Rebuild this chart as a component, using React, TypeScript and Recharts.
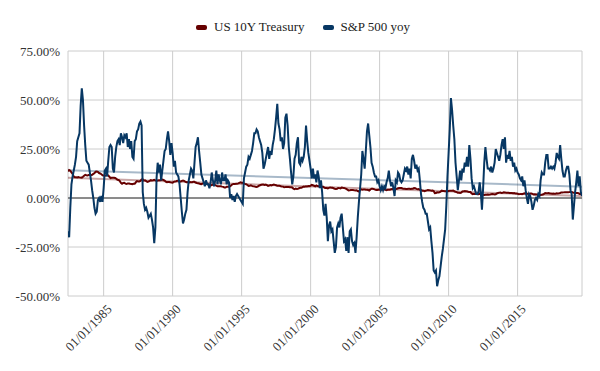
import { LineChart, Line, XAxis, YAxis, CartesianGrid, ReferenceLine } from 'recharts';

// monthly, month-end observations from May 1982 to Aug 2019
const startYear = 1982;
const startMonth = 5;

// S&P 500 year-over-year change, %
const sp500Yoy = [
    -17, -20, -5, 7, 11, 14, 17, 21, // 1982 (May-Dec)
    29, 31, 33, 47, 56, 50, 37, 27, 19, 18, 17, 13, // 1983
    9, 4, 0, -5, -8, -7, -1, 0, -2, 1, -2, 5, // 1984
    14, 15, 11, 19, 26, 27, 26, 15, 13, 21, 26, 29, // 1985
    30, 27, 33, 31, 28, 32, 31, 33, 26, 30, 25, 29, // 1986
    21, 20, 29, 30, 34, 35, 38, 39, 37, 3, -3, -6, // 1987
    -5, -7, -10, -9, -8, -11, -15, -23, -15, 10, 18, 13, // 1988
    17, 9, 14, 19, 24, 25, 30, 34, 29, 22, 28, 23, // 1989
    16, 19, 13, 12, 11, 7, 0, -7, -13, -11, -8, -6, // 1990
    3, 9, 12, 15, 14, 10, 18, 26, 28, 31, 24, 18, // 1991
    12, 10, 8, 6, 9, 7, 7, 5, 8, 13, 9, 6, // 1992
    9, 14, 7, 12, 9, 7, 13, 9, 9, 12, 7, 9, // 1993
    8, 0, 2, -1, 1, -2, 1, 2, 1, 0, -1, -2, // 1994
    -3, 10, 13, 16, 17, 21, 20, 22, 24, 28, 33, 33, // 1995
    35, 34, 31, 29, 27, 23, 15, 17, 20, 23, 26, 20, // 1996
    24, 22, 27, 30, 35, 41, 48, 38, 35, 29, 31, 25, // 1997
    28, 41, 43, 37, 26, 20, 13, 7, 11, 20, 22, 28, // 1998
    31, 18, 17, 21, 19, 21, 26, 37, 29, 23, 19, 15, // 1999
    10, 15, 10, 12, 8, 14, 11, 5, 9, 3, -6, -9, // 2000
    -3, -10, -22, -14, -12, -17, -16, -22, -28, -25, -15, -13, // 2001
    -15, -10, -8, -15, -22, -21, -27, -20, -28, -17, -16, -22, // 2002
    -24, -23, -28, -20, -10, -2, 5, 12, 24, 20, 15, 24, // 2003
    34, 38, 32, 26, 18, 16, 13, 11, 11, 8, 9, 6, // 2004
    4, 6, 4, 6, 5, 8, 10, 14, 9, 6, 8, 5, // 2005
    1, 9, 8, 13, 12, 9, 8, 9, 12, 15, 14, 16, // 2006
    12, 15, 10, 20, 22, 19, 15, 17, 14, 15, 9, 2, // 2007
    -2, -5, -6, -8, -8, -12, -16, -15, -22, -28, -37, -38, // 2008
    -37, -45, -42, -40, -35, -30, -26, -21, -16, -4, 11, 23, // 2009
    35, 51, 45, 37, 30, 18, 11, 4, 9, 14, 9, 15, // 2010
    13, 18, 16, 21, 16, 27, 20, 10, 5, 6, 4, 2, // 2011
    2, 3, 8, 3, -6, 5, 18, 26, 20, 15, 15, 14, // 2012
    16, 13, 15, 18, 25, 23, 21, 19, 22, 27, 30, 25, // 2013
    31, 18, 22, 20, 24, 19, 21, 16, 18, 14, 15, 13, // 2014
    12, 10, 9, 11, 6, 9, 4, 0, -3, 2, 1, -2, // 2015
    -6, -4, -1, 0, -1, 2, 1, 9, 13, 12, 12, 18, // 2016
    22, 22, 15, 15, 16, 15, 16, 15, 18, 23, 21, 20, // 2017
    27, 20, 14, 11, 11, 14, 16, 16, 12, 4, 2, -11, // 2018
    -4, 3, 8, 14, 6, 11, 3, 1, // 2019 (Jan-Aug)
];

// US 10Y Treasury yield, %
const us10yTreasury = [
    13.62, 14.3, 13.95, 13.06, 12.34, 10.91, 10.55, 10.54,
    10.46, 10.72, 10.51, 10.4, 10.38, 10.85, 11.38, 11.85, 11.65, 11.54, 11.69, 11.83,
    11.67, 11.84, 12.32, 12.63, 13.41, 13.56, 13.36, 12.72, 12.52, 12.16, 11.57, 11.5,
    11.38, 11.51, 11.86, 11.43, 10.85, 10.16, 10.31, 10.33, 10.37, 10.24, 9.78, 9.26,
    9.19, 8.7, 7.78, 7.3, 7.71, 7.8, 7.3, 7.17, 7.45, 7.43, 7.25, 7.11,
    7.08, 7.25, 7.25, 8.02, 8.61, 8.4, 8.45, 8.76, 9.42, 9.52, 8.86, 8.99,
    8.67, 8.21, 8.37, 8.72, 9.09, 8.92, 9.06, 9.26, 8.98, 8.8, 8.96, 9.11,
    9.09, 9.17, 9.36, 9.18, 8.86, 8.28, 8.02, 8.11, 8.19, 8.01, 7.87, 7.84,
    8.21, 8.47, 8.59, 8.79, 8.76, 8.48, 8.47, 8.75, 8.89, 8.72, 8.39, 8.08,
    8.09, 7.85, 8.11, 8.04, 8.07, 8.28, 8.27, 7.9, 7.65, 7.53, 7.42, 7.09,
    7.03, 7.34, 7.54, 7.48, 7.39, 7.26, 6.84, 6.59, 6.42, 6.59, 6.87, 6.77,
    6.6, 6.26, 5.98, 5.97, 6.04, 5.96, 5.81, 5.68, 5.36, 5.33, 5.72, 5.77,
    5.75, 5.97, 6.48, 6.97, 7.18, 7.1, 7.3, 7.24, 7.46, 7.74, 7.96, 7.81,
    7.78, 7.47, 7.2, 7.06, 6.63, 6.17, 6.28, 6.49, 6.2, 6.04, 5.93, 5.71,
    5.65, 5.81, 6.27, 6.51, 6.74, 6.91, 6.87, 6.64, 6.83, 6.53, 6.2, 6.3,
    6.58, 6.42, 6.69, 6.89, 6.71, 6.49, 6.22, 6.3, 6.21, 6.03, 5.88, 5.81,
    5.54, 5.57, 5.65, 5.64, 5.65, 5.5, 5.46, 5.34, 4.81, 4.53, 4.83, 4.65,
    4.72, 5.0, 5.23, 5.18, 5.54, 5.9, 5.79, 5.94, 5.92, 6.11, 6.03, 6.28,
    6.66, 6.52, 6.26, 5.99, 6.44, 6.1, 6.05, 5.83, 5.8, 5.74, 5.72, 5.24,
    5.16, 5.1, 4.89, 5.14, 5.39, 5.28, 5.24, 4.97, 4.73, 4.57, 4.65, 5.09,
    5.04, 4.91, 5.28, 5.21, 5.16, 4.93, 4.65, 4.26, 3.87, 3.94, 4.05, 4.03,
    4.05, 3.9, 3.81, 3.96, 3.57, 3.33, 3.98, 4.45, 4.27, 4.29, 4.3, 4.27,
    4.15, 4.08, 3.83, 4.35, 4.72, 4.73, 4.5, 4.28, 4.13, 4.1, 4.19, 4.23,
    4.22, 4.17, 4.5, 4.34, 4.14, 4.0, 4.18, 4.26, 4.2, 4.46, 4.54, 4.47,
    4.42, 4.57, 4.72, 4.99, 5.11, 5.11, 5.09, 4.88, 4.72, 4.73, 4.6, 4.56,
    4.76, 4.72, 4.56, 4.69, 4.75, 5.1, 5.0, 4.67, 4.52, 4.53, 4.15, 4.1,
    3.74, 3.74, 3.51, 3.68, 3.88, 4.1, 4.01, 3.89, 3.69, 3.81, 3.53, 2.42,
    2.52, 2.87, 2.82, 2.93, 3.29, 3.72, 3.56, 3.59, 3.4, 3.39, 3.4, 3.59,
    3.73, 3.69, 3.73, 3.85, 3.42, 3.2, 3.01, 2.7, 2.65, 2.54, 2.76, 3.29,
    3.39, 3.58, 3.41, 3.46, 3.17, 3.0, 3.0, 2.3, 1.98, 2.15, 2.01, 1.98,
    1.97, 1.97, 2.17, 2.05, 1.8, 1.62, 1.53, 1.68, 1.72, 1.75, 1.65, 1.72,
    1.91, 1.98, 1.96, 1.76, 1.93, 2.3, 2.58, 2.74, 2.81, 2.62, 2.72, 2.9,
    2.86, 2.71, 2.72, 2.71, 2.56, 2.6, 2.54, 2.42, 2.53, 2.3, 2.33, 2.21,
    1.88, 1.98, 2.04, 1.94, 2.2, 2.36, 2.32, 2.17, 2.17, 2.07, 2.26, 2.24,
    2.09, 1.78, 1.89, 1.81, 1.81, 1.64, 1.5, 1.56, 1.63, 1.76, 2.14, 2.49,
    2.43, 2.42, 2.48, 2.3, 2.3, 2.19, 2.32, 2.21, 2.2, 2.36, 2.35, 2.4,
    2.58, 2.86, 2.84, 2.87, 2.98, 2.91, 2.89, 2.89, 3.0, 3.15, 3.12, 2.83,
    2.71, 2.68, 2.57, 2.53, 2.4, 2.07, 2.06, 1.63,
];

// trendline values at the first and last observation, read off the chart
const spTrendEnds = [14.2, 5.8];
const ustTrendEnds = [10.3, 1.0];

const yearTicks = [1985, 1990, 1995, 2000, 2005, 2010, 2015];
const pctTicks = [-50, -25, 0, 25, 50, 75];

const RED = '#660000';
const BLUE = '#073763';
const FONT = '"Liberation Serif", "Times New Roman", serif';

const rows = sp500Yoy.map((v, i) => ({
    t: startYear + (startMonth + i) / 12,
    sp: v,
    ust: us10yTreasury[i],
}));

const tFirst = rows[0].t;
const tLast = rows[rows.length - 1].t;
const spTrend = [{ t: tFirst, v: spTrendEnds[0] }, { t: tLast, v: spTrendEnds[1] }];
const ustTrend = [{ t: tFirst, v: ustTrendEnds[0] }, { t: tLast, v: ustTrendEnds[1] }];

function DateTick({ x, y, payload }: any) {
    const px = x + 9;
    const py = y + 6;
    return (
        <text
            x={px}
            y={py}
            transform={`rotate(-45, ${px}, ${py})`}
            textAnchor="end"
            fontSize={13}
            style={{ fontFamily: FONT }}
            fill="#333"
        >
            {`01/01/${payload.value}`}
        </text>
    );
}

function LegendItem({ color, label }: { color: string; label: string }) {
    return (
        <div style={{ display: 'flex', alignItems: 'center', marginRight: 18 }}>
            <span style={{ width: 11, height: 5, borderRadius: 2, background: color, marginRight: 7 }} />
            <span>{label}</span>
        </div>
    );
}

export default function App() {
    return (
        <div
            style={{
                position: 'absolute',
                left: 0,
                top: 0,
                width: 600,
                height: 371,
                background: '#fff',
                fontFamily: FONT,
            }}
        >
            <div
                style={{
                    position: 'absolute',
                    left: 196,
                    top: 18,
                    display: 'flex',
                    fontSize: 13,
                    color: '#222',
                    lineHeight: '18px',
                }}
            >
                <LegendItem color={RED} label="US 10Y Treasury" />
                <LegendItem color={BLUE} label="S&P 500 yoy" />
            </div>
            <LineChart width={600} height={371} data={rows} margin={{ top: 51, right: 18, bottom: 0, left: 0 }}>
                <CartesianGrid stroke="#cccccc" />
                <XAxis
                    dataKey="t"
                    type="number"
                    domain={['dataMin', 'dataMax']}
                    ticks={yearTicks}
                    tick={<DateTick />}
                    axisLine={false}
                    tickLine={false}
                    height={75}
                    allowDataOverflow
                />
                <YAxis
                    type="number"
                    domain={[-50, 75]}
                    ticks={pctTicks}
                    tickFormatter={(v: number) => `${v.toFixed(2)}%`}
                    tick={{ fontSize: 13, fill: '#333', style: { fontFamily: FONT } }}
                    axisLine={false}
                    tickLine={false}
                    width={68}
                />
                <ReferenceLine y={0} stroke="#333" strokeWidth={1} />
                <Line
                    data={ustTrend}
                    dataKey="v"
                    stroke={RED}
                    strokeOpacity={0.35}
                    strokeWidth={2}
                    dot={false}
                    activeDot={false}
                    isAnimationActive={false}
                    legendType="none"
                />
                <Line
                    data={spTrend}
                    dataKey="v"
                    stroke={BLUE}
                    strokeOpacity={0.35}
                    strokeWidth={2}
                    dot={false}
                    activeDot={false}
                    isAnimationActive={false}
                    legendType="none"
                />
                <Line
                    dataKey="ust"
                    name="US 10Y Treasury"
                    stroke={RED}
                    strokeWidth={2}
                    dot={false}
                    activeDot={false}
                    isAnimationActive={false}
                />
                <Line
                    dataKey="sp"
                    name="S&P 500 yoy"
                    stroke={BLUE}
                    strokeWidth={2}
                    dot={false}
                    activeDot={false}
                    isAnimationActive={false}
                />
            </LineChart>
        </div>
    );
}
